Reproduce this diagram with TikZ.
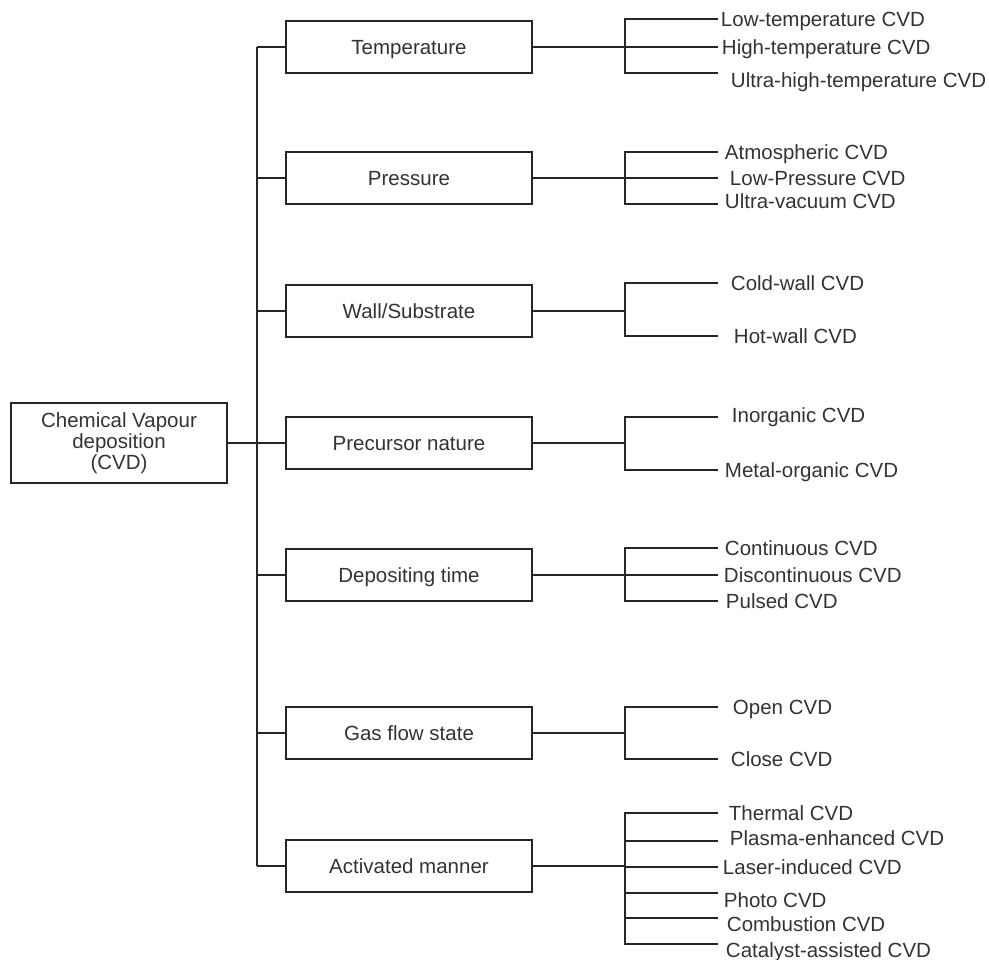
\documentclass[tikz,border=0pt]{standalone}
\usepackage{fontspec}
\setmainfont{Liberation Sans}
\begin{document}
\begin{tikzpicture}[x=1pt,y=-1pt,
  line width=1.9pt, color=black!85,
  txt/.style={font=\fontsize{20.5}{20.5}\selectfont, text=black!80},
  box/.style={txt, draw, line width=1.9pt, fill=white, minimum width=246pt, minimum height=52pt,
    inner sep=0pt, text height=14.7pt, text depth=0pt},
  rootbox/.style={txt, draw, line width=1.9pt, minimum width=216pt, minimum height=80pt,
    inner sep=0pt, align=center},
  leaf/.style={txt, anchor=base west, inner sep=0pt}
]
\useasboundingbox (0,0) rectangle (989,960);

% root
\node[rootbox] (root) at (119,443) {Chemical Vapour\\[0.6pt]deposition\\[0.6pt](CVD)};

% categories
\node[box] (c1) at (409,47)  {Temperature};
\node[box] (c2) at (409,178) {Pressure};
\node[box] (c3) at (409,311) {Wall/Substrate};
\node[box] (c4) at (409,443) {Precursor nature};
\node[box] (c5) at (409,575) {Depositing time};
\node[box] (c6) at (409,733) {Gas flow state};
\node[box] (c7) at (409,866) {Activated manner};

% trunk
\coordinate (trtop) at (257,47);
\coordinate (trbot) at (257,866);
\draw (trtop) -- (trbot);
\draw (root.east) -- (root.east -| trtop);
\foreach \c in {c1,c2,c3,c4,c5,c6,c7}{
  \draw (\c.west -| trtop) -- (\c.west);
}

% bracket x and leaf end x
\def\bx{625}
\def\ex{718}

% Temperature
\coordinate (b1) at (\bx,47);
\draw (c1.east) -- (b1);
\coordinate (l11) at (\ex,19); \coordinate (l12) at (\ex,47); \coordinate (l13) at (\ex,73);
\draw (l11) -- (l11 -| b1) -- (l13 -| b1) -- (l13);
\draw (l12 -| b1) -- (l12);
\node[leaf] (t11) at (720,26.3) {Low-temperature CVD};
\node[leaf] (t12) at (721,54.3) {High-temperature CVD};
\node[leaf] (t13) at (730,87.3) {Ultra-high-temperature CVD};

% Pressure
\coordinate (b2) at (\bx,178);
\draw (c2.east) -- (b2);
\coordinate (l21) at (\ex,152); \coordinate (l22) at (\ex,178); \coordinate (l23) at (\ex,204);
\draw (l21) -- (l21 -| b2) -- (l23 -| b2) -- (l23);
\draw (l22 -| b2) -- (l22);
\node[leaf] (t21) at (724,159.3) {Atmospheric CVD};
\node[leaf] (t22) at (729,185.3) {Low-Pressure CVD};
\node[leaf] (t23) at (724,208.3) {Ultra-vacuum CVD};

% Wall/Substrate
\coordinate (b3) at (\bx,311);
\draw (c3.east) -- (b3);
\coordinate (l31) at (\ex,283); \coordinate (l32) at (\ex,336);
\draw (l31) -- (l31 -| b3) -- (l32 -| b3) -- (l32);
\node[leaf] (t31) at (730,290.3) {Cold-wall CVD};
\node[leaf] (t32) at (733,343.3) {Hot-wall CVD};

% Precursor nature
\coordinate (b4) at (\bx,443);
\draw (c4.east) -- (b4);
\coordinate (l41) at (\ex,417); \coordinate (l42) at (\ex,470);
\draw (l41) -- (l41 -| b4) -- (l42 -| b4) -- (l42);
\node[leaf] (t41) at (731,422.3) {Inorganic CVD};
\node[leaf] (t42) at (724,477.3) {Metal-organic CVD};

% Depositing time
\coordinate (b5) at (\bx,575);
\draw (c5.east) -- (b5);
\coordinate (l51) at (\ex,548); \coordinate (l52) at (\ex,575); \coordinate (l53) at (\ex,601);
\draw (l51) -- (l51 -| b5) -- (l53 -| b5) -- (l53);
\draw (l52 -| b5) -- (l52);
\node[leaf] (t51) at (724,555.3) {Continuous CVD};
\node[leaf] (t52) at (723,582.3) {Discontinuous CVD};
\node[leaf] (t53) at (725,608.3) {Pulsed CVD};

% Gas flow state
\coordinate (b6) at (\bx,733);
\draw (c6.east) -- (b6);
\coordinate (l61) at (\ex,707); \coordinate (l62) at (\ex,759);
\draw (l61) -- (l61 -| b6) -- (l62 -| b6) -- (l62);
\node[leaf] (t61) at (732,714.3) {Open CVD};
\node[leaf] (t62) at (730,766.3) {Close CVD};

% Activated manner
\coordinate (b7) at (\bx,866);
\draw (c7.east) -- (b7);
\coordinate (l71) at (\ex,813); \coordinate (l72) at (\ex,841); \coordinate (l73) at (\ex,867);
\coordinate (l74) at (\ex,893); \coordinate (l75) at (\ex,918); \coordinate (l76) at (\ex,944);
\draw (l71) -- (l71 -| b7) -- (l76 -| b7) -- (l76);
\foreach \l in {l72,l73,l74,l75}{ \draw (\l -| b7) -- (\l); }
\node[leaf] (t71) at (728,820.3) {Thermal CVD};
\node[leaf] (t72) at (729,845.3) {Plasma-enhanced CVD};
\node[leaf] (t73) at (722,874.3) {Laser-induced CVD};
\node[leaf] (t74) at (723,907.3) {Photo CVD};
\node[leaf] (t75) at (726,931.3) {Combustion CVD};
\node[leaf] (t76) at (725,957.3) {Catalyst-assisted CVD};
\end{tikzpicture}
\end{document}
